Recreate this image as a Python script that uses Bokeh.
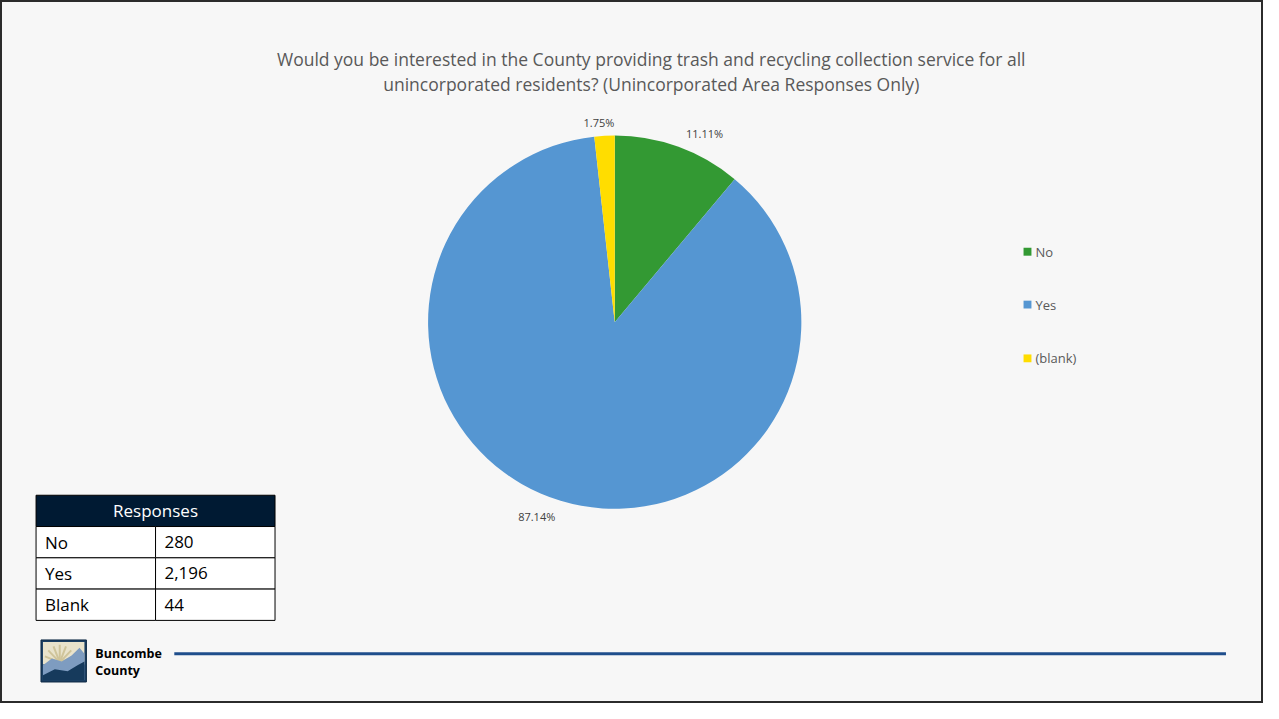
import numpy as np
from bokeh.plotting import figure
from bokeh.models import Range1d
from bokeh.core.properties import value
from bokeh.embed import file_html
from bokeh.resources import INLINE

# ---- data ----
categories = ["No", "Yes", "(blank)"]
table_labels = ["No", "Yes", "Blank"]
counts = [280, 2196, 44]
colors = ["#339933", "#5596D2", "#FFDD00"]
title_lines = ["Would you be interested in the County providing trash and recycling collection service for all",
               "unincorporated residents? (Unincorporated Area Responses Only)"]
table_header = "Responses"
footer_lines = ["Buncombe", "County"]

# ---- layout (reference pixel coordinates, y measured from top) ----
H = 719
FONT = "Open Sans"
def Y(y):
    return H - y

p = figure(width=1263, height=703, output_backend="svg", toolbar_location=None,
           x_range=Range1d(0, 1279), y_range=Range1d(0, 719),
           min_border=0)
p.xaxis.visible = False
p.yaxis.visible = False
p.xgrid.visible = False
p.ygrid.visible = False
p.background_fill_color = "#F7F7F7"
p.border_fill_color = "#F7F7F7"
p.outline_line_color = "#2b2b2b"
p.outline_line_width = 3

# title
for i, line in enumerate(title_lines):
    p.text(x=[659], y=[Y(60 + 25 * i)], text=[line], text_align="center", text_baseline="middle",
           text_font=value(FONT), text_font_size="17.5px", text_color="#595959")

# pie
cx, cy, r = 622, 329, 189
total = float(sum(counts))
fracs = np.array(counts) / total
ends = np.pi / 2 - 2 * np.pi * np.cumsum(fracs)
starts = np.concatenate([[np.pi / 2], ends[:-1]])
p.wedge(x=[cx] * 3, y=[Y(cy)] * 3, radius=r, start_angle=list(starts), end_angle=list(ends),
        direction="clock", fill_color=colors, line_color=None)

# data labels
label_pos = [(713, 136), (543, 528), (606, 125)]
for (lx, ly), f in zip(label_pos, fracs):
    p.text(x=[lx], y=[Y(ly)], text=[f"{f*100:.2f}%"], text_align="center", text_baseline="middle",
           text_font=value(FONT), text_font_size="11px", text_color="#404040")

# legend
leg_y = [257, 311, 366]
for cat, col, ly in zip(categories, colors, leg_y):
    p.rect(x=[1040], y=[Y(ly)], width=8, height=8, fill_color=col, line_color=None)
    p.text(x=[1048], y=[Y(ly)], text=[cat], text_align="left", text_baseline="middle",
           text_font=value(FONT), text_font_size="13px", text_color="#595959")

# table
tx0, tx1, tdiv = 36, 278, 157
row_top = [506, 538, 570, 602]
row_h = 32
p.quad(left=[tx0], right=[tx1], top=[Y(row_top[0])], bottom=[Y(row_top[0] + row_h)],
       fill_color="#001A33", line_color="#000000", line_width=1)
p.text(x=[(tx0 + tx1) / 2], y=[Y(row_top[0] + row_h / 2)], text=[table_header], text_align="center",
       text_baseline="middle", text_font=value(FONT), text_font_size="17px", text_color="#FFFFFF")
for i, (lab, c) in enumerate(zip(table_labels, counts)):
    t = row_top[i + 1]
    p.quad(left=[tx0], right=[tdiv], top=[Y(t)], bottom=[Y(t + row_h)], fill_color="#FFFFFF",
           line_color="#000000", line_width=1)
    p.quad(left=[tdiv], right=[tx1], top=[Y(t)], bottom=[Y(t + row_h)], fill_color="#FFFFFF",
           line_color="#000000", line_width=1)
    p.text(x=[tx0 + 9], y=[Y(t + row_h / 2)], text=[lab], text_align="left", text_baseline="middle",
           text_font=value(FONT), text_font_size="17px", text_color="#000000")
    p.text(x=[tdiv + 9], y=[Y(t + row_h / 2)], text=[f"{c:,}"], text_align="left", text_baseline="middle",
           text_font=value(FONT), text_font_size="17px", text_color="#000000")

# footer logo
p.quad(left=[41], right=[87], top=[Y(654)], bottom=[Y(697)], fill_color="#1B3F63", line_color="#0F2A45")
p.quad(left=[43], right=[85], top=[Y(656)], bottom=[Y(679)], fill_color="#E9E3CB", line_color=None)
for ang in np.linspace(0.35, np.pi - 0.35, 7):
    p.segment(x0=[60], y0=[Y(677)], x1=[60 + 16 * np.cos(ang)], y1=[Y(677) + 18 * np.sin(ang)],
              line_color="#CFC49A", line_width=2)
p.patch(x=[43, 52, 62, 72, 80, 85, 85, 43], y=[Y(y) for y in [680, 673, 676, 670, 662, 668, 695, 695]],
        fill_color="#7E9CC0", line_color=None)
p.patch(x=[43, 55, 68, 78, 85, 85, 43], y=[Y(y) for y in [690, 684, 686, 680, 676, 695, 695]],
        fill_color="#163A5C", line_color=None)
p.text(x=[96, 96], y=[Y(668), Y(685)], text=footer_lines, text_align="left", text_baseline="middle",
       text_font=value(FONT), text_font_size="12.5px", text_font_style="bold", text_color="#000000")
p.segment(x0=[176], y0=[Y(668)], x1=[1241], y1=[Y(668)], line_color="#1F4E8C", line_width=3)

open("out.html", "w").write(file_html(p, INLINE))
